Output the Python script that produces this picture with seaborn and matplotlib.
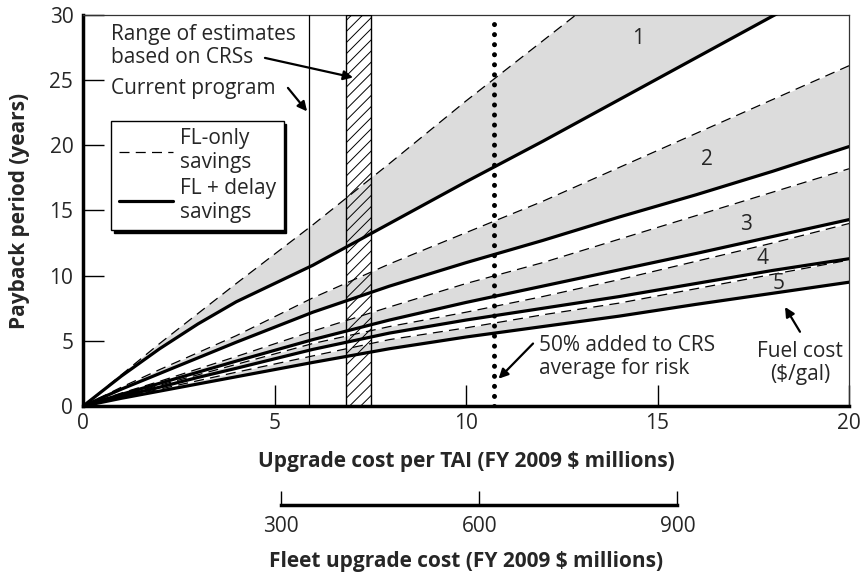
import matplotlib
matplotlib.use("Agg")
import matplotlib.pyplot as plt
from matplotlib.lines import Line2D
import seaborn as sns
import numpy as np
import pandas as pd

# upgrade cost per TAI (FY 2009 $ millions)
COST = [0, 1, 2, 3, 4, 6, 8, 10, 12, 14, 16, 18, 20]

# payback period (years), FL-only savings (dashed) and FL + delay savings (solid)
FL_ONLY_1 = [0, 2.4, 4.8, 7.1, 9.4, 13.9, 18.6, 23.4, 28.0, 32.6, 37.2, 41.8, 46.4]
FL_DELAY_1 = [0, 2.3, 4.4, 6.3, 8.0, 10.8, 14.0, 17.2, 20.3, 23.5, 26.7, 29.9, 33.0]
FL_ONLY_2 = [0, 1.45, 2.8, 4.1, 5.4, 8.3, 10.9, 13.3, 15.7, 18.3, 20.9, 23.5, 26.1]
FL_DELAY_2 = [0, 1.3, 2.5, 3.7, 4.9, 7.2, 9.2, 11.0, 12.7, 14.5, 16.2, 18.0, 19.9]
FL_ONLY_3 = [0, 1.0, 1.9, 2.85, 3.8, 5.75, 7.6, 9.4, 11.0, 12.8, 14.6, 16.4, 18.2]
FL_DELAY_3 = [0, 0.9, 1.75, 2.6, 3.45, 5.1, 6.6, 7.95, 9.2, 10.45, 11.7, 13.0, 14.3]
FL_ONLY_4 = [0, 0.8, 1.6, 2.4, 3.2, 4.8, 6.1, 7.2, 8.4, 9.7, 11.1, 12.5, 14.0]
FL_DELAY_4 = [0, 0.75, 1.45, 2.2, 2.9, 4.35, 5.6, 6.6, 7.5, 8.4, 9.4, 10.4, 11.3]
FL_ONLY_5 = [0, 0.65, 1.3, 1.95, 2.6, 3.85, 5.1, 6.0, 7.0, 7.9, 9.0, 10.1, 11.2]
FL_DELAY_5 = [0, 0.6, 1.15, 1.7, 2.25, 3.35, 4.4, 5.3, 6.1, 6.9, 7.8, 8.65, 9.5]

FUEL_LABELS = ["1", "2", "3", "4", "5"]
LABEL_POS = [(14.5, 28.2), (16.3, 18.9), (17.3, 13.9), (17.75, 11.35), (18.15, 9.4)]

CURRENT_PROGRAM = 5.9
CRS_RANGE = (6.86, 7.52)
CRS_RISK = 10.72
FLEET_SIZE = 58            # fleet cost = per-TAI cost x fleet size
FLEET_TICKS = [300, 600, 900]

sns.set_theme(style="white")
plt.rcParams["font.family"] = ["Open Sans", "DejaVu Sans"]
plt.rcParams["hatch.linewidth"] = 0.7

FS = 15

fig = plt.figure(figsize=(8.65, 5.72), dpi=100)
ax = fig.add_axes([0.096, 0.29, 0.8855, 0.684])

pairs = [(FL_ONLY_1, FL_DELAY_1), (FL_ONLY_2, FL_DELAY_2), (FL_ONLY_3, FL_DELAY_3),
         (FL_ONLY_4, FL_DELAY_4), (FL_ONLY_5, FL_DELAY_5)]
for dashed, solid in pairs:
    ax.fill_between(COST, solid, dashed, color="#dcdcdc", lw=0, zorder=1)
    sns.lineplot(x=COST, y=dashed, ax=ax, color="black", lw=0.9,
                 linestyle=(0, (8, 5)), legend=False, zorder=4)
    sns.lineplot(x=COST, y=solid, ax=ax, color="black", lw=2.3,
                 legend=False, zorder=4)

for lab, (lx, ly) in zip(FUEL_LABELS, LABEL_POS):
    ax.text(lx, ly, lab, fontsize=FS, ha="center", va="center", zorder=5)

# current program / CRS range / CRS + 50% risk
ax.axvline(CURRENT_PROGRAM, color="black", lw=0.9, zorder=3)
ax.axvspan(*CRS_RANGE, facecolor="none", edgecolor="black", hatch="///",
           lw=1.0, zorder=3)
ax.axvline(CRS_RISK, color="black", lw=3.6, linestyle=(0, (0.01, 2.0)),
           dash_capstyle="round", zorder=5)

arrow = dict(arrowstyle="-|>", color="black", lw=1.6, mutation_scale=14,
             shrinkA=0, shrinkB=0)
ax.text(0.73, 27.6, "Range of estimates\nbased on CRSs", fontsize=FS,
        va="center", ha="left", linespacing=1.1)
ax.annotate("", xy=(7.05, 25.2), xytext=(4.75, 26.7), arrowprops=arrow)
ax.text(0.73, 24.35, "Current program", fontsize=FS, va="center", ha="left")
ax.annotate("", xy=(5.85, 22.6), xytext=(5.35, 24.4), arrowprops=arrow)
ax.text(11.9, 3.75, "50% added to CRS\naverage for risk", fontsize=FS,
        va="center", ha="left", linespacing=1.1)
ax.annotate("", xy=(10.85, 2.1), xytext=(11.75, 4.8), arrowprops=arrow)
ax.text(18.72, 3.3, "Fuel cost\n($/gal)", fontsize=FS, va="center",
        ha="center", linespacing=1.1)
ax.annotate("", xy=(18.33, 7.6), xytext=(18.72, 5.7), arrowprops=arrow)

handles = [Line2D([], [], color="black", lw=0.9, linestyle=(0, (8, 5))),
           Line2D([], [], color="black", lw=2.3)]
ax.legend(handles, ["FL-only\nsavings", "FL + delay\nsavings"],
          loc="upper left", bbox_to_anchor=(0.037, 0.729), fontsize=FS,
          frameon=True, fancybox=False, edgecolor="black", framealpha=1,
          borderpad=0.35, handlelength=2.6, handletextpad=0.35,
          labelspacing=0.2, borderaxespad=0,
          shadow={"facecolor": "black", "edgecolor": "black", "alpha": 1})
ax.get_legend().get_frame().set_linewidth(1.0)

ax.set_xlim(0, 20)
ax.set_ylim(0, 30)
ax.set_xticks([0, 5, 10, 15, 20])
ax.set_yticks([0, 5, 10, 15, 20, 25, 30])
ax.tick_params(direction="in", length=15, width=1, color="black",
               labelsize=FS, bottom=True, left=True)
ax.tick_params(axis="x", pad=5)
ax.tick_params(axis="y", pad=7)
for s in ["left", "bottom"]:
    ax.spines[s].set_linewidth(2.5)
    ax.spines[s].set_color("black")
for s in ["top", "right"]:
    ax.spines[s].set_linewidth(0.9)
    ax.spines[s].set_color("#333333")
ax.set_xlabel("Upgrade cost per TAI (FY 2009 $ millions)", fontsize=15,
              fontweight="bold", labelpad=12)
ax.set_ylabel("Payback period (years)", fontsize=15, fontweight="bold",
              labelpad=14)

# fleet upgrade cost scale
ax2 = fig.add_axes([0.096, 0.117, 0.8855, 0.001])
ax2.set_facecolor("none")
ax2.set_xlim(0, 20 * FLEET_SIZE)
ax2.set_yticks([])
for s in ["left", "right", "top"]:
    ax2.spines[s].set_visible(False)
ax2.spines["bottom"].set_bounds(FLEET_TICKS[0], FLEET_TICKS[-1])
ax2.spines["bottom"].set_linewidth(2.5)
ax2.spines["bottom"].set_color("black")
ax2.set_xticks(FLEET_TICKS)
ax2.tick_params(axis="x", direction="in", length=10, width=1, color="black",
                labelsize=FS, pad=8, bottom=True)
ax2.set_xlabel("Fleet upgrade cost (FY 2009 $ millions)", fontsize=15,
               fontweight="bold", labelpad=10)

fig.savefig("out.png", dpi=100)
